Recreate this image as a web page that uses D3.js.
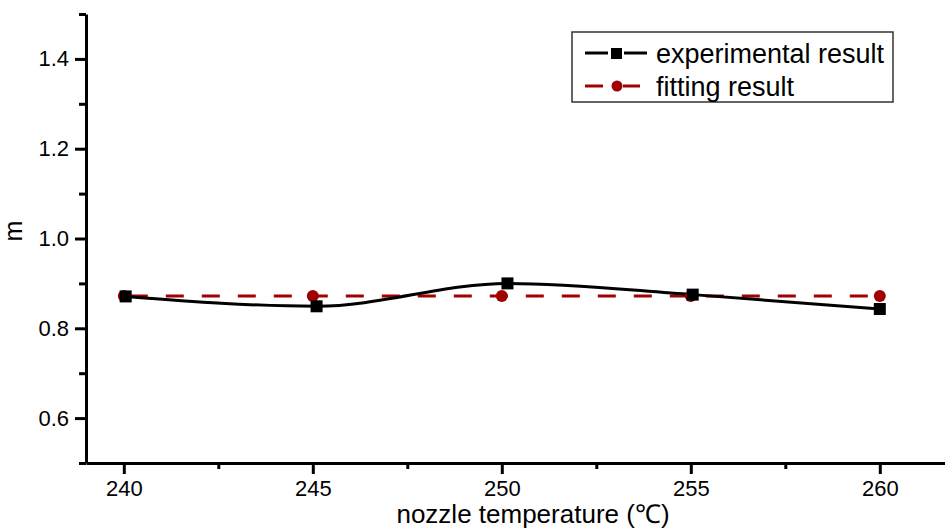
<!DOCTYPE html>
<html>
<head>
<meta charset="utf-8">
<script src="https://cdn.jsdelivr.net/npm/d3@7"></script>
<style>
  body { margin: 0; background: #fff; }
  text { font-family: Arial, "Liberation Sans", sans-serif; }
</style>
</head>
<body>
<script>
// data
var temps = [240, 245, 250, 255, 260];
var expTemps = [240.05, 245.1, 250.15, 255.05, 260];
var expM = [0.871, 0.849, 0.900, 0.875, 0.843];
var fitM = [0.872, 0.872, 0.872, 0.872, 0.872];
var xMajor = [240, 245, 250, 255, 260];
var xMinor = [242.5, 247.5, 252.5, 257.5];
var yMajor = [0.6, 0.8, 1.0, 1.2, 1.4];
var yMinor = [0.5, 0.7, 0.9, 1.1, 1.3, 1.5];
var seriesNames = ["experimental result", "fitting result"];

var width = 945, height = 529;
var red = "#a00000";

var svg = d3.select("body").append("svg")
    .attr("width", width)
    .attr("height", height);

var x = d3.scaleLinear().domain([239, 262]).range([86, 86 + 23 * 37.8]);
var y = d3.scaleLinear().domain([0.5, 1.5]).range([463, 14]);

// minor ticks
svg.append("g").attr("transform", "translate(0,463)")
    .call(d3.axisBottom(x).tickValues(xMinor).tickSize(6).tickSizeOuter(0).tickFormat(""))
    .call(function(g){ g.select(".domain").remove(); });
svg.append("g").attr("transform", "translate(86,0)")
    .call(d3.axisLeft(y).tickValues(yMinor).tickSize(7).tickSizeOuter(0).tickFormat(""))
    .call(function(g){ g.select(".domain").remove(); });

// major axes
var xAxis = svg.append("g").attr("transform", "translate(0,463)")
    .call(d3.axisBottom(x).tickValues(xMajor).tickSize(11).tickSizeOuter(0).tickPadding(6).tickFormat(d3.format("d")));
var yAxis = svg.append("g").attr("transform", "translate(86,0)")
    .call(d3.axisLeft(y).tickValues(yMajor).tickSize(11).tickSizeOuter(0).tickPadding(6).tickFormat(d3.format(".1f")));

svg.selectAll(".tick line").attr("stroke", "#000").attr("stroke-width", 3);
svg.selectAll(".domain").attr("stroke", "#000").attr("stroke-width", 3);
svg.selectAll(".tick text").attr("font-size", 22).attr("fill", "#000")
    .attr("font-family", "Arial, 'Liberation Sans', sans-serif");

// axis titles
svg.append("text")
    .attr("x", 533).attr("y", 523)
    .attr("text-anchor", "middle")
    .attr("font-size", 26)
    .text("nozzle temperature (℃)");

svg.append("text")
    .attr("transform", "translate(22,231) rotate(-90)")
    .attr("text-anchor", "middle")
    .attr("font-size", 25)
    .text("m");

// fitting line (dashed)
var fitLine = d3.line()
    .x(function(d, i){ return x(temps[i]); })
    .y(function(d){ return y(d); });

svg.append("path")
    .attr("d", fitLine(fitM))
    .attr("fill", "none")
    .attr("stroke", red)
    .attr("stroke-width", 3)
    .attr("stroke-dasharray", "18,18")
    .attr("stroke-dashoffset", -6);

// experimental line (smoothed)
var expLine = d3.line()
    .x(function(d, i){ return x(expTemps[i]); })
    .y(function(d){ return y(d); })
    .curve(d3.curveMonotoneX);

svg.append("path")
    .attr("d", expLine(expM))
    .attr("fill", "none")
    .attr("stroke", "#000")
    .attr("stroke-width", 3);

svg.selectAll("circle.fit")
    .data(fitM)
    .enter()
    .append("circle")
    .attr("class", "fit")
    .attr("cx", function(d, i){ return x(temps[i]); })
    .attr("cy", function(d){ return y(d); })
    .attr("r", 6)
    .attr("fill", red);

svg.selectAll("rect.exp")
    .data(expM)
    .enter()
    .append("rect")
    .attr("class", "exp")
    .attr("x", function(d, i){ return x(expTemps[i]) - 6; })
    .attr("y", function(d){ return y(d) - 6; })
    .attr("width", 12)
    .attr("height", 12)
    .attr("fill", "#000");

// legend
var legend = svg.append("g");
legend.append("rect")
    .attr("x", 572).attr("y", 32)
    .attr("width", 321).attr("height", 70)
    .attr("fill", "#fff")
    .attr("stroke", "#333")
    .attr("stroke-width", 1.5);

legend.append("line").attr("x1", 585).attr("x2", 608).attr("y1", 53).attr("y2", 53)
    .attr("stroke", "#000").attr("stroke-width", 3);
legend.append("line").attr("x1", 624).attr("x2", 647).attr("y1", 53).attr("y2", 53)
    .attr("stroke", "#000").attr("stroke-width", 3);
legend.append("rect").attr("x", 611).attr("y", 48).attr("width", 11).attr("height", 11)
    .attr("fill", "#000");

legend.append("line").attr("x1", 585).attr("x2", 603).attr("y1", 86).attr("y2", 86)
    .attr("stroke", red).attr("stroke-width", 3);
legend.append("line").attr("x1", 623).attr("x2", 640).attr("y1", 86).attr("y2", 86)
    .attr("stroke", red).attr("stroke-width", 3);
legend.append("circle").attr("cx", 617).attr("cy", 86).attr("r", 5.5)
    .attr("fill", red);

legend.selectAll("text.leg")
    .data(seriesNames)
    .enter()
    .append("text")
    .attr("class", "leg")
    .attr("x", 656)
    .attr("y", function(d, i){ return 63 + i * 33; })
    .attr("font-size", 27)
    .text(function(d){ return d; });
</script>
</body>
</html>
